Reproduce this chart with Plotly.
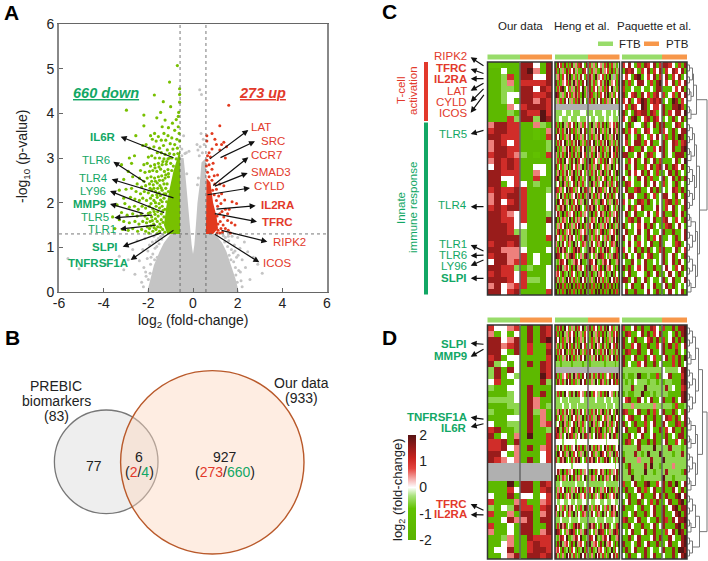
import plotly.graph_objects as go

FONT = "Liberation Sans"
INK = "#222222"
GREEN_T = "#12a765"
RED_T = "#e2392b"
W, H = 708, 561

# ---------- Panel A data ----------
GRAY_OUTLINE_X = [-2.05,-1.9,-1.75,-1.5,-1.3,-1.0,-0.58,-0.58,-0.42,-0.32,-0.24,-0.14,-0.06,0.0,0.06,0.13,0.2,0.3,0.38,0.58,0.58,1.0,1.3,1.5,1.7,1.9,2.05]
GRAY_OUTLINE_Y = [0,0.3,0.6,0.9,1.1,1.3,1.3,3.0,3.0,2.5,2.0,1.5,1.05,0.85,1.05,1.5,2.0,2.4,2.9,3.0,1.3,1.3,1.1,0.9,0.6,0.3,0]
GREEN_DENSE_X = [-0.58,-1.15,-1.3,-1.2,-1.05,-0.88,-0.7,-0.58]
GREEN_DENSE_Y = [1.3,1.3,1.5,1.9,2.3,2.7,3.0,3.2]
RED_DENSE_X = [0.58,0.6,0.78,0.9,1.05,1.12,0.9]
RED_DENSE_Y = [1.3,2.55,2.45,2.0,1.7,1.42,1.3]
GRAY_POINTS = [(-5.6,.75),(-5.1,.52),(-3.9,.62),(-3.3,.8),(-3.1,.5),(-2.9,.72),(-2.7,.95),(-2.6,.4),(-2.5,1.15),(-2.4,.7),(-2.3,.22),(-2.25,.95),(-2.2,.55),(-2.15,1.2),(-2.1,.35),(-2.05,.75),(-1.95,1.05),(-1.9,.62),(-1.85,.18),(-1.8,.85),(-1.75,1.25),(-1.7,.98),(-1.65,1.15),(-1.6,.78),(-1.55,1.2),
 (-2.22,.12),(-2.12,.45),(-2.02,.92),(-2.0,.28),(-1.92,.42),(-1.88,.78),(-1.82,1.12),(-1.72,.72),(-1.62,1.02),(-1.52,1.08),(-1.45,1.24),(-1.4,1.18),(-1.34,1.27),
 (3.1,.42),(2.9,.62),(2.7,.78),(2.55,.28),(2.45,.9),(2.35,.55),(2.3,1.12),(2.2,.72),(2.15,.25),(2.1,.98),(2.05,.48),(2.0,1.22),(1.95,.78),(1.9,.55),(1.85,1.05),(1.8,.88),(1.75,1.25),(1.7,.72),(1.6,1.15),(1.55,1.02),(1.45,1.22),
 (2.2,.12),(2.12,.45),(2.02,.82),(1.98,.22),(1.92,.38),(1.88,.92),(1.82,.68),(1.72,.95),(1.62,.82),(1.58,1.25),(1.42,1.12),(1.36,1.26),
 (.3,4.53),(.38,4.42),(.36,3.55),(.46,3.42),(.18,3.3),(.22,3.18),(.32,3.25),(.42,3.12),(.5,3.3),(.28,3.05),(-.5,3.2),(-.42,3.5),(-.3,3.12),(-.36,3.1),(-.18,3.15),(-.5,3.05),(-.28,2.65),(.24,2.55),(.2,2.4)]
GREEN_POINTS = [(-.7,5.07),(-1.05,4.7),(-1.73,4.41),(-1.33,4.26),(-1.0,4.15),(-2.98,4.07),(-2.2,3.96),(-.6,4.55),(-.6,4.42),(-.6,4.25),(-.64,4.02),(-.66,3.93),(-.75,3.86),(-.92,3.78),(-1.25,3.85),(-1.45,4.02),(-1.62,3.9),(-2.2,3.72),(-1.38,3.7),(-1.1,3.68),(-.82,3.62),(-.66,3.7),(-.62,3.55),(-1.72,3.55),(-2.56,3.5),(-1.9,3.5),(-1.55,3.48),(-1.3,3.55),(-1.12,3.5),(-.95,3.45),(-.72,3.42),(-.6,3.38),
 (-1.82,3.42),(-1.65,3.38),(-1.42,3.4),(-1.22,3.4),(-1.02,3.32),(-.82,3.3),(-2.25,3.28),(-2.62,3.05),(-2.85,3.0),(-2.1,3.3),(-1.95,3.22),(-1.75,3.25),(-1.5,3.22),(-1.32,3.28),(-1.15,3.18),(-.9,3.2),(-.7,3.22),(-1.6,3.12),(-1.42,3.12),(-1.25,3.08),(-1.05,3.1),(-.85,3.08),(-.68,3.1),(-2.75,2.88),(-2.0,3.02),(-1.85,3.05),(-1.7,3.0),(-1.5,3.0),(-1.3,2.98),(-1.12,2.98),(-.95,3.0),(-.75,2.98),
 (-3.2,2.85),(-2.2,2.85),(-2.05,2.88),(-1.9,2.82),(-1.72,2.85),(-1.55,2.88),(-1.38,2.85),(-1.2,2.86),(-1.0,2.88),(-.88,2.82),(-2.9,2.7),(-2.35,2.72),(-2.15,2.68),(-1.95,2.7),(-1.8,2.72),(-1.62,2.7),(-1.45,2.75),(-1.28,2.7),(-1.12,2.74),(-.95,2.72),
 (-3.1,2.52),(-2.7,2.58),(-2.4,2.55),(-2.2,2.48),(-2.05,2.55),(-1.88,2.58),(-1.72,2.55),(-1.55,2.58),(-1.4,2.6),(-1.25,2.55),(-1.1,2.58),(-2.5,2.42),(-2.3,2.35),(-2.12,2.38),(-1.95,2.42),(-1.78,2.4),(-1.6,2.44),(-1.48,2.38),(-1.3,2.42),(-1.16,2.42),
 (-3.3,2.28),(-3.0,2.3),(-2.75,2.32),(-2.55,2.25),(-2.35,2.2),(-2.18,2.25),(-2.0,2.22),(-1.85,2.28),(-1.68,2.25),(-1.52,2.22),(-1.38,2.28),(-1.22,2.2),(-1.1,2.25),(-3.1,2.1),(-2.8,2.12),(-2.6,2.08),(-2.4,2.05),(-2.25,2.1),(-2.08,2.05),(-1.9,2.1),(-1.75,2.05),(-1.6,2.12),(-1.45,2.06),(-1.3,2.1),(-1.18,2.02),
 (-3.4,1.95),(-3.05,1.98),(-2.85,1.9),(-2.62,1.92),(-2.45,1.85),(-2.28,1.92),(-2.12,1.88),(-1.95,1.92),(-1.8,1.86),(-1.65,1.92),(-1.5,1.88),(-1.38,1.92),(-1.26,1.85),(-3.2,1.78),(-2.95,1.72),(-2.7,1.75),(-2.5,1.7),(-2.32,1.75),(-2.15,1.7),(-2.0,1.76),(-1.85,1.68),(-1.7,1.74),(-1.56,1.7),(-1.42,1.75),(-1.3,1.68),
 (-3.6,1.68),(-3.3,1.62),(-3.1,1.58),(-2.85,1.55),(-2.6,1.58),(-2.42,1.52),(-2.25,1.58),(-2.08,1.55),(-1.92,1.58),(-1.76,1.52),(-1.6,1.58),(-1.48,1.52),(-1.34,1.56),(-3.5,1.42),(-3.15,1.4),(-2.9,1.38),(-2.7,1.42),(-2.48,1.36),(-2.3,1.4),(-2.12,1.36),(-1.95,1.42),(-1.8,1.36),(-1.66,1.4),(-1.5,1.36),(-1.36,1.4),(-1.26,1.34),(-1.98,1.32),(-1.6,1.31),
 (-1.05,3.0),(-1.18,2.92),(-1.35,2.92),(-1.52,2.8),(-1.7,2.78),(-1.1,2.65),(-1.22,2.62),(-1.35,2.5),(-1.5,2.5),(-1.68,2.48),(-1.85,2.48),(-1.22,2.32),(-1.42,2.33),(-1.58,2.32),(-1.75,2.32),(-1.92,2.32),(-1.3,2.2),(-1.46,2.16),(-1.62,2.18),(-1.82,2.16),(-1.38,2.02),(-1.52,1.98),(-1.68,2.0),(-1.88,1.98),(-1.35,1.82),(-1.58,1.8),(-1.74,1.8),(-1.92,1.78),(-1.42,1.62),(-1.68,1.64),(-1.82,1.6),(-2.05,1.64),(-1.45,1.45),(-1.58,1.46),(-1.74,1.44),(-1.88,1.48),(-2.05,1.46)]
RED_POINTS = [(1.6,4.18),(1.2,3.72),(.62,3.5),(.85,3.55),(.62,3.38),(1.5,3.25),(1.38,3.35),(1.28,3.3),(1.05,3.3),(.98,3.42),(1.2,3.18),(.85,3.2),(1.45,3.0),(.72,3.12),(.65,3.05),(.78,3.02),(.62,2.95),(.9,2.88),(.72,2.85),(.6,2.82),(.85,2.75),(.65,2.68),(.95,2.6),(.72,2.58),(1.1,2.62),(.85,2.5),(1.2,2.42),(.98,2.42),(1.38,2.38),(1.05,2.3),(.88,2.28),(1.28,2.2),(1.15,2.15),(.95,2.18),(1.05,2.05),(1.42,2.06),(1.75,2.02),(1.95,1.98),(1.25,1.98),(1.1,1.92),(1.45,1.85),(1.3,1.8),(1.55,1.75),(1.62,1.85),(1.2,1.75),(1.08,1.7),(1.38,1.68),(1.55,1.6),(1.72,1.55),(1.22,1.58),(1.12,1.52),(1.88,1.5),(1.35,1.5),(1.25,1.42),(1.45,1.42),(1.12,1.38),(1.58,1.38),(1.68,1.32),(1.32,1.34),(1.08,1.32),(1.2,1.32)]

TICKS_X = [-6,-4,-2,0,2,4,6]
TICKS_Y = [0,1,2,3,4,5,6]
TICK_TEXT_X = ["-6","-4","-2","0","2","4","6"]
THRESHOLD_X = 0.58
THRESHOLD_Y = 1.3

GENE_LABELS_A = [("IL6R",118,137,1,-1),("TLR6",112,160,0,-1),("TLR4",110,178,0,-1),("LY96",108,191,0,-1),("MMP9",108,204,1,-1),("TLR5",111,217,0,-1),("TLR1",118,229,0,-1),("SLPI",120,247,1,-1),("TNFRSF1A",130,263,1,-1),
 ("LAT",249,127,0,1),("SRC",259,141,0,1),("CCR7",249,155,0,1),("SMAD3",249,172,0,1),("CYLD",252,186,0,1),("IL2RA",259,205,1,1),("TFRC",260,222,1,1),("RIPK2",271,242,0,1),("ICOS",261,263,0,1)]
ARROWS_A = [(525,475,362,410),(440,550,340,485),(525,595,335,538),(497,640,330,573),(435,642,330,612),(460,645,343,653),(472,675,360,687),(488,697,368,740),(525,688,392,780),
 (625,480,745,390),(657,475,765,424),(635,560,745,472),(640,560,743,519),(618,585,750,564),(645,628,767,617),(640,640,771,665),(660,690,802,725),(640,700,778,787)]

# ---------- Panel C / D heatmaps: 39 genes; levels 0..8 = -2..2 in 0.5 steps, "." = no data ----------
LEVELS = {str(i): -2 + i*0.5 for i in range(9)}

C_OUR = ["2211177417","1141178517","1136177447","1135166667","1133177476","1134477667","1134177576","1115467776","1113176686","1116377387",
"5776611531","6776611215","7766611216","5764611113","5776611113","6776531216","5767611111","4767611441","7766611541","7744611611","7714641311",
"6766761113","5767761114","5746761114","6767761114","7765461113","7766461117","7776441114","7776331114","7777731116","6776731111","7755541114",
"6775561411","4775661411","7766313114","6766461114","7776463314","5745661114","7746711116"]
C_HENG = ["174617261735167417263517453617263514","617352716473521764716352173546271635","357164738152637416275183546172839516","716254617385261748173625463718254617","263781462537164825371647351627483526","871352746157362815476237164738251647","352617483516273841562738471625384716",
"....................................","333344333433334443333433334433343343","334433344333443334343344333433443334",
"617283516472835164728351637281546372","275163847162538471625384715263847152","748162537481625374816253748162537481","163748251637482516374825163748251637","826153748261537482615374826153748261","517362846173628461736284517362846173","361728451738264517382645361728451738",
"724615382746153827461538724615382746","158263741582637415826374158263741582","681372514681372514681372514681372514","347185263471852634718526347185263471","762514837625148376251483762514837625","514836271548362715483627514836271548","286471538264715382647153286471538264",
"631758241637582416375824631758241637","475182635471826354718263475182635471","827365148273651482736514827365148273","153648271536482715364827153648271536","368172546381725463817254368172546381","741526385741526387415263741526387415","518374265183742651837426518374265183",
"263857143268571432685714263857143268","876142537861425378614253876142537861","315764821357648213576482315764821357","172835641728356417283564172835641728","564172381641723816417238564172381641","736251847362518473625184736251847362","181716171817161718171617181716171817","817161817161817181716181817161817161"]
C_PAQ = ["647416176471677641617","176741647164716476471","464178146471647164714","716147741617846471647","611411411417711146471","714671746167461461747","647146871676714187164",
"461764871466471177861","714176771761471647748","641781467176414171471","417144171471771147614","716461476411764171477","471417141647416171871",
"461477164711471476167","147611741164771471178","771147417614471417771","416471471471611147148","471471164716747176471","417464717416114717141",
"741417471611471471717","176411471474161417141","471167114717141476171","147741171461477417417","641417617141416716147","147164711147416471417",
"471471147416471171471","416717411471167416417","714146471714116714741","471147417411471171147","741471417164711417147","147416414711714416714",
"641471717141671147146","174147146711471471417","411741471141471471741","717146471171147416471","147114417147114741714","771471471411471471147","414711741471147171414","471171147417114741471"]

D_OUR = ["6445617176","5141417176","7745717178","7756716116","7741716117","6714411116","7341417176","3717411176","3714311186","4611411173",
"3114417111","1113417171","3333417511","1113317513","3111317351","1114417151","4113317156","6711317113","7141518116","6671711116",
"6674517156","7741511146","7654517146","..........","..........","..........","1118177176","1116477167","4117144146","6111561156",
"3143766167","6115177157","1147557177","6114177117","5114177157","1135117666","1145116766","1447116776","1145717767"]
D_HENG = ["263718462537164825371647263718462537","617283516472835164728351617283516472","748162537481625374816253748162537481","517362846173628461736284517362846173","163748251637482516374825163748251637","826153748261537482615374826153748261","333133333133333133313333333133333133",
"....................................","716254617385261748173625716254617385","275163847162538471625384275163847162","444444444444444444444444444444444444","361728451738264517382645361728451738","333433343333334433433343333433343333","333343334333433333433333333343334333","158263741582637415826374158263741582",
"724615382746153827461538724615382746","347185263471852634718526347185263471","681372514681372514681372681372514681","762514837625148376251483762514837625","444434444443444444344444444434444443","514836271548362715483627514836271548","286471538264715382647153286471538264","631758241637582416375824631758241637",
"444444444344444444444444444444444344","475182635471826354718263475182635471","827365148273651482736514827365148273","333433333334333343333333333433333334","153648271536482715364827153648271536","368172546381725463817254368172546381","433443344334333443343344433443344334","741526385741526387415263741526385741",
"518374265183742651837426518374265183","333433334333343333433343333433334333","263857143268571432685714263857143268","876142537861425378614253876142537861","315764821357648213576482315764821357","172835641728356417283564172835641728","564172381641723816417238564172381641","736251847362518473625184736251847362"]
D_PAQ = ["611471711764161171778","176114717164711417178","714171146717161471718","711647117116471716147","176117114711471117141","711471171461147161718","714116471171411161714",
"333333333333343333478","131138113116144711168","313143331331313311178","333733383333337341167","131133811313333111178","467117414711471171478","333533333353333316113",
"761147117161471171417","146711471171147617147","714171161471174117617","471117471411716471171","117414711471117141771","176147117171147116417",
"333337333383333733313","133373138333833313373","733335333733383333333","317333373833133353333","337133383313337333317","333833133333383313333","611471178116471718147",
"171147161471171174171","417114711174717117847","147117141617114711781","711141711471171478177","114171171471171147817","671147114117176174778",
"117411711471471117817","414711471171116471871","117147111471711741178","711417147117114711478","171471171411471171887","417114171471141171478"]

GENES_C = [("RIPK2",56,0),("TFRC",68,1),("IL2RA",79,1),("LAT",91,0),("CYLD",102,0),("ICOS",113,0),("TLR5",134,0),("TLR4",205,0),("TLR1",244,0),("TLR6",255,0),("LY96",266,0),("SLPI",278,1)]
GENE_COLORS_C = [RED_T]*6 + [GREEN_T]*6
ARROWS_C = [(345,200,302,172),(345,222,302,207),(345,236,302,236),(345,247,302,272),(345,262,302,306),(345,280,302,338),(345,390,302,402),(345,620,302,620),(345,755,302,735),(345,765,302,767),(345,778,302,797),(345,835,302,835)]
GENES_D = [("SLPI",344,1,GREEN_T),("MMP9",356,1,GREEN_T),("TNFRSF1A",417,1,GREEN_T),("IL6R",428,1,GREEN_T),("TFRC",504,1,RED_T),("IL2RA",514,1,RED_T)]
ARROWS_D = [(345,103,302,100,310),(345,115,302,140,310),(345,328,302,322,310),(345,340,302,351,310),(345,243,302,222,430),(345,255,302,254,430)]

# dendrogram nodes: [height, child, child]; 0 = a leaf
p = [2,0,0]; t = [3.5,p,0]; q = [5,p,p]
a = [8,q,t]; b = [8,q,q]; c = [8,t,t]
TREE_C = [19.5,[9,[6,q,t],t],[12,[9,[7,q,t],[7,q,q]],[10,[8,t,q],[8,q,t]]]]
TREE_D = [19.5,[15,[11,a,b],[10,c,a]],[12,a,q]]

COLORSCALE = [[0,"#5ab300"],[0.3,"#62c200"],[0.42,"#a9e27c"],[0.5,"#ffffff"],[0.58,"#f6b0ae"],[0.68,"#e4453f"],[0.78,"#c8231f"],[0.9,"#8d1a1a"],[1,"#571414"]]

# ---------- helpers ----------
fig = go.Figure()
shapes, annos = [], []
next_ax = [2]

def dom(x0, y0, x1, y1):
    return dict(domain=[x0/W, x1/W]), dict(domain=[1-y1/H, 1-y0/H])

def decode(rows, n):
    return [[LEVELS.get(ch) for ch in (r*2)[:n]] for r in rows]

def text(x, y, s, size=14, color=INK, anchor="center", bold=False, angle=0, italic=False):
    if bold: s = f"<b>{s}</b>"
    if italic: s = f"<i>{s}</i>"
    annos.append(dict(xref="x9", yref="y9", x=x, y=y, text=s, showarrow=False, xanchor=anchor, yanchor="middle",
                      textangle=angle, font=dict(family=FONT, size=size, color=color)))

def arrow(x0, y0, x1, y1):
    annos.append(dict(xref="x9", yref="y9", axref="x9", ayref="y9", x=x1, y=y1, ax=x0, ay=y0, text="", showarrow=True,
                      arrowhead=2, arrowsize=1.0, arrowwidth=1.2, arrowcolor="#111111", standoff=0, startstandoff=0))

def rect(x0, y0, x1, y1, fill=None, line=None, width=0, layer="above"):
    shapes.append(dict(type="rect", xref="x9", yref="y9", x0=x0, y0=y0, x1=x1, y1=y1, fillcolor=fill or "rgba(0,0,0,0)",
                       line=dict(color=line or "rgba(0,0,0,0)", width=width), layer=layer))

def heat(rows, n, x0, y0, x1, y1, scale=False):
    i = next_ax[0]; next_ax[0] += 1
    xd, yd = dom(x0, y0, x1, y1)
    fig.layout[f"xaxis{i}"] = dict(xd, visible=False, anchor=f"y{i}")
    fig.layout[f"yaxis{i}"] = dict(yd, visible=False, anchor=f"x{i}", autorange="reversed")
    tr = go.Heatmap(z=decode(rows, n), zmin=-2, zmax=2, colorscale=COLORSCALE, showscale=scale, xaxis=f"x{i}", yaxis=f"y{i}", hoverongaps=False)
    if scale:
        tr.colorbar = dict(x=407.5/W, xanchor="left", y=1-435/H, yanchor="top", lenmode="pixels", len=105, thickness=8, thicknessmode="pixels",
                           xpad=0, ypad=0, outlinewidth=0, tickvals=[-2,-1,0,1,2], ticktext=["-2","-1","0","1","2"], ticks="",
                           tickfont=dict(family=FONT, size=14, color=INK))
    fig.add_trace(tr)
    shapes.append(dict(type="rect", xref="paper", yref="paper", x0=x0/W, x1=x1/W, y0=1-y1/H, y1=1-y0/H, fillcolor="#b0b0b0", line=dict(width=0), layer="below"))

def draw_tree(node, rows, top, rowh, x0, xs, ys):
    if node == 0:
        y = top + rows[0]*rowh + rowh/2
        rows[0] += 1
        return y, 0
    y1, h1 = draw_tree(node[1], rows, top, rowh, x0, xs, ys)
    y2, h2 = draw_tree(node[2], rows, top, rowh, x0, xs, ys)
    h = node[0]
    xs += [x0+h1, x0+h, x0+h, x0+h2, None]
    ys += [y1, y1, y2, y2, None]
    return (y1+y2)/2, h

# ---------- Panel A ----------
xd, yd = dom(59, 24, 327, 292)
fig.update_layout(
    xaxis=dict(xd, range=[-6,6], tickvals=TICKS_X, ticktext=TICK_TEXT_X, ticks="inside", ticklen=4, tickcolor="#666", linecolor="#666", linewidth=1.2, mirror=True, showgrid=False, zeroline=False, tickfont=dict(family=FONT, size=14, color=INK), anchor="y", ticklabelstandoff=-2),
    yaxis=dict(yd, range=[0,6], tickvals=TICKS_Y, ticks="inside", ticklen=4, tickcolor="#666", linecolor="#888", linewidth=1.8, mirror=True, showgrid=False, zeroline=False, tickfont=dict(family=FONT, size=14, color=INK), anchor="x"),
)
GRAY, GREEN, RED = "#c4c4c4", "#78c000", "#e23a1e"
fig.add_trace(go.Scatter(x=GRAY_OUTLINE_X, y=GRAY_OUTLINE_Y, mode="lines", fill="toself", fillcolor=GRAY, line=dict(width=0), xaxis="x", yaxis="y"))
fig.add_trace(go.Scatter(x=[p_[0] for p_ in GRAY_POINTS], y=[p_[1] for p_ in GRAY_POINTS], mode="markers", marker=dict(color=GRAY, size=3), xaxis="x", yaxis="y"))
fig.add_trace(go.Scatter(x=GREEN_DENSE_X, y=GREEN_DENSE_Y, mode="lines", fill="toself", fillcolor=GREEN, line=dict(width=0), xaxis="x", yaxis="y"))
fig.add_trace(go.Scatter(x=[p_[0] for p_ in GREEN_POINTS], y=[p_[1] for p_ in GREEN_POINTS], mode="markers", marker=dict(color=GREEN, size=3.2), xaxis="x", yaxis="y"))
fig.add_trace(go.Scatter(x=RED_DENSE_X, y=RED_DENSE_Y, mode="lines", fill="toself", fillcolor=RED, line=dict(width=0), xaxis="x", yaxis="y"))
fig.add_trace(go.Scatter(x=[p_[0] for p_ in RED_POINTS], y=[p_[1] for p_ in RED_POINTS], mode="markers", marker=dict(color=RED, size=3), xaxis="x", yaxis="y"))
for v in (-THRESHOLD_X, THRESHOLD_X):
    shapes.append(dict(type="line", xref="x", yref="y", x0=v, x1=v, y0=0, y1=6, line=dict(color="#555", width=0.8, dash="dot"), layer="above"))
shapes.append(dict(type="line", xref="x", yref="y", x0=-6, x1=6, y0=THRESHOLD_Y, y1=THRESHOLD_Y, line=dict(color="#555", width=0.8, dash="dot"), layer="above"))

text(11, 12, "A", 21, "#000", bold=True)
text(23, 157, "-log<sub>10</sub> (p-value)", 14, angle=-90)
text(193, 321, "log<sub>2</sub> (fold-change)", 14)
text(106, 93, "<u>660 down</u>", 14.5, GREEN_T, bold=True, italic=True)
text(262, 93, "<u>273 up</u>", 14.5, RED_T, bold=True, italic=True)
for name, x, y, bold, side in GENE_LABELS_A:
    text(x, y, name, 11.5, GREEN_T if side < 0 else RED_T, "right" if side < 0 else "left", bold=bool(bold))
for a_ in ARROWS_A:
    arrow(*[v/3 for v in a_])

# ---------- Panel B ----------
def circle(cx, cy, r, fill, line, width):
    shapes.append(dict(type="circle", xref="x9", yref="y9", x0=cx-r, x1=cx+r, y0=cy-r, y1=cy+r, fillcolor=fill, line=dict(color=line, width=width), layer="above"))
circle(106.2, 461.8, 51.8, "#eeeeee", "#777777", 1.3)
circle(212.3, 462.3, 91.7, "rgba(252,214,190,0.45)", "#b9592a", 1.4)
text(12, 337, "B", 21, "#000", bold=True)
for s, x, y in [("PREBIC",56,386),("biomarkers",56,401),("(83)",56,416),("Our data",301,383),("(933)",301,398),("77",94,466),("6",139,457),("927",225,457)]:
    text(x, y, s, 14)
text(139, 472, f'(<span style="color:{RED_T}">2</span>/<span style="color:{GREEN_T}">4</span>)', 14)
text(225, 472, f'(<span style="color:{RED_T}">273</span>/<span style="color:{GREEN_T}">660</span>)', 14)

# ---------- Panels C and D ----------
text(389, 11, "C", 21, "#000", bold=True)
text(389, 337, "D", 21, "#000", bold=True)
text(520, 26, "Our data", 11.5); text(582, 26, "Heng et al.", 11.5); text(654, 26, "Paquette et al.", 11.5)
FTB, PTB = "#98dc6a", "#f7974a"
rect(598, 41.5, 613, 46, FTB); text(617, 44, "FTB", 11.5, anchor="left")
rect(644, 41.5, 659, 46, PTB); text(664, 44, "PTB", 11.5, anchor="left")

PANELS = [(62, 295, 54.5, 59.5, C_OUR, C_HENG, C_PAQ), (325, 559, 317.5, 322.5, D_OUR, D_HENG, D_PAQ)]
first = True
for y0, y1, by0, by1, our, hen, paq in PANELS:
    for rows, n, x0, xm, x1 in [(our,10,487.5,520,552),(hen,36,555,588,619.5),(paq,21,622,662,687)]:
        heat(rows, n, x0, y0, x1, y1, scale=first); first = False
        rect(x0, by0, xm, by1, FTB); rect(xm, by0, x1, by1, PTB)
        rect(x0, y0, x1, y1, None, "#333333", 1.5)
        shapes.append(dict(type="line", xref="x9", yref="y9", x0=xm, x1=xm, y0=y0, y1=y1, line=dict(color="#666666", width=1.5), layer="above"))

rect(424, 62, 428, 121, RED_T)
rect(424, 122.5, 428, 294.5, GREEN_T)
text(401, 91, "T-cell", 11.5, RED_T, angle=-90); text(413, 91, "activation", 11.5, RED_T, angle=-90)
text(401, 208, "Innate", 11.5, GREEN_T, angle=-90); text(413, 208, "immune response", 11.5, GREEN_T, angle=-90)
for (name, y, bold), col in zip(GENES_C, GENE_COLORS_C):
    text(469, y, name, 11.5, col, "right", bold=bool(bold))
for x0_, y0_, x1_, y1_ in ARROWS_C:
    arrow(370+x0_/3, y0_/3, 370+x1_/3, y1_/3)
for name, y, bold, col in GENES_D:
    text(469, y, name, 11.5, col, "right", bold=bool(bold))
for x0_, y0_, x1_, y1_, o in ARROWS_D:
    arrow(370+x0_/3, o+y0_/3, 370+x1_/3, o+y1_/3)
text(398, 490, "log<sub>2</sub> (fold-change)", 13, angle=-90)

dx, dy = [], []
draw_tree(TREE_C, [0], 62, (295-62)/39, 687.5, dx, dy)
draw_tree(TREE_D, [0], 325, (559-325)/39, 687.5, dx, dy)
fig.add_trace(go.Scatter(x=dx, y=dy, mode="lines", line=dict(color="#777777", width=1), xaxis="x9", yaxis="y9", connectgaps=False))

fig.layout["xaxis9"] = dict(domain=[0,1], range=[0,W], visible=False, anchor="y9")
fig.layout["yaxis9"] = dict(domain=[0,1], range=[H,0], visible=False, anchor="x9")

fig.update_layout(width=W, height=H, margin=dict(l=0,r=0,t=0,b=0,autoexpand=False), autosize=False, paper_bgcolor="white",
                  plot_bgcolor="rgba(0,0,0,0)", showlegend=False, shapes=shapes, annotations=annos, font=dict(family=FONT, color=INK))
fig.write_html("out.html", config=dict(displayModeBar=False),
               post_script="document.body.style.margin='0';document.body.style.overflow='hidden';")
